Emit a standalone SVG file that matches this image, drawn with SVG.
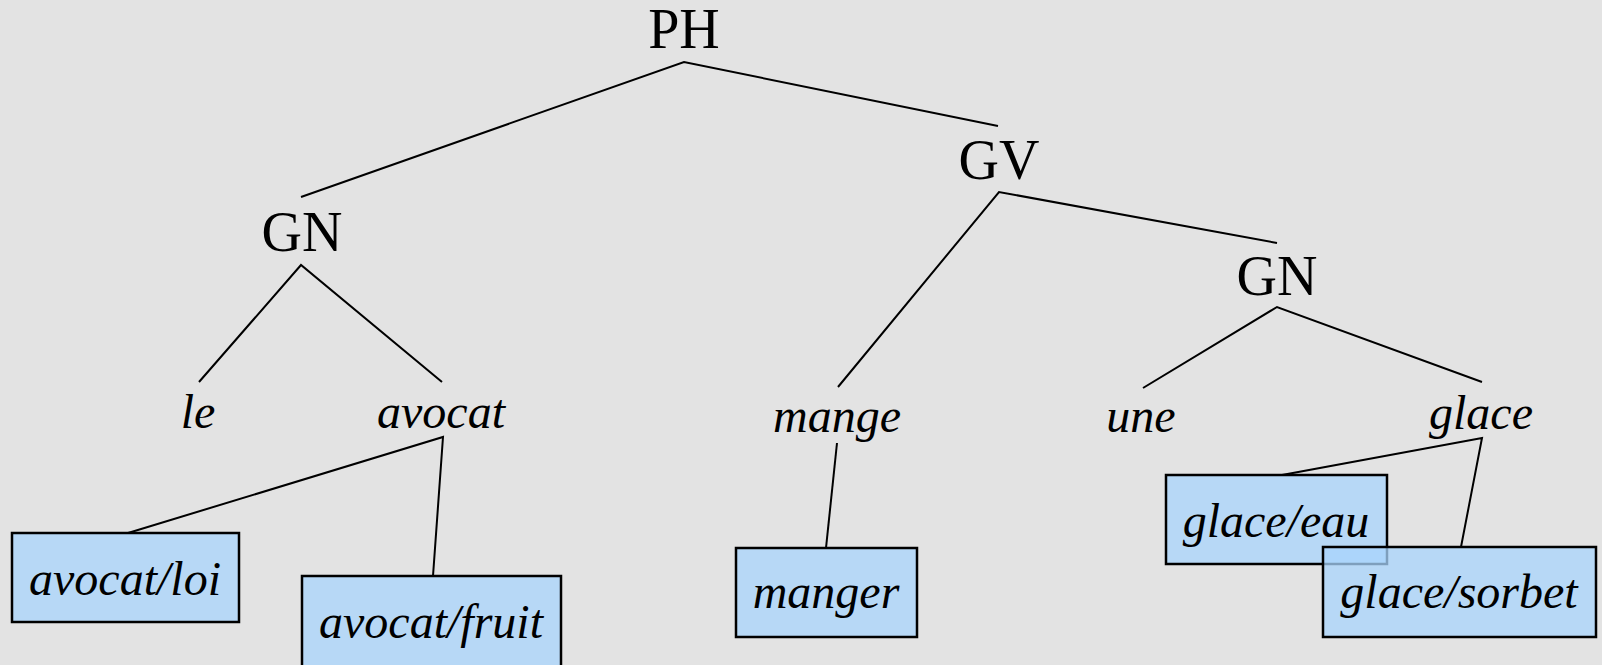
<svg xmlns="http://www.w3.org/2000/svg" width="1602" height="665" viewBox="0 0 1602 665">
<style>
.lbl{font-family:"Liberation Serif","Times New Roman",serif;font-size:56px;fill:#000;text-anchor:middle}
.w{font-family:"Liberation Serif","Times New Roman",serif;font-size:48px;font-style:italic;fill:#000;text-anchor:middle}
.box{fill:#a8d4fc;fill-opacity:0.75;stroke:#000;stroke-width:2.5}
.edge{stroke:#000;stroke-width:2;fill:none}
</style>
<rect x="0" y="0" width="1602" height="665" fill="#e3e3e3"/>
<g id="connectors">
<polyline class="edge" points="301,197 684,62 998,126"/>
<polyline class="edge" points="838,387 999,192 1277,243"/>
<polyline class="edge" points="199,382 301,265 442,382"/>
<polyline class="edge" points="1143,388 1277,307 1482,382"/>
<polyline class="edge" points="128,533 443,437 433,576"/>
<line class="edge" x1="837" y1="443" x2="826" y2="548"/>
<polyline class="edge" points="1282,475 1482,438 1461,547"/>
</g>
<g id="n-ph"><text class="lbl" x="684" y="48">PH</text></g>
<g id="n-gn1"><text class="lbl" x="302" y="251">GN</text></g>
<g id="n-gv"><text class="lbl" x="999" y="179">GV</text></g>
<g id="n-gn2"><text class="lbl" x="1277" y="295">GN</text></g>
<g id="n-le"><text class="w" x="198" y="428">le</text></g>
<g id="n-avocat"><text class="w" x="441" y="428">avocat</text></g>
<g id="n-mange"><text class="w" x="837" y="432">mange</text></g>
<g id="n-une"><text class="w" x="1141" y="432">une</text></g>
<g id="n-glace"><text class="w" x="1481" y="429">glace</text></g>
<g id="n-avocat-loi"><rect class="box" x="12" y="533" width="227" height="89"/><text class="w" x="125" y="595">avocat/loi</text></g>
<g id="n-avocat-fruit"><rect class="box" x="302" y="576" width="259" height="100"/><text class="w" x="431" y="638">avocat/fruit</text></g>
<g id="n-manger"><rect class="box" x="736" y="548" width="181" height="89"/><text class="w" x="826" y="608">manger</text></g>
<g id="n-glace-eau"><rect class="box" x="1166" y="475" width="221" height="89"/><text class="w" x="1276" y="537">glace/eau</text></g>
<g id="n-glace-sorbet"><rect class="box" x="1323" y="547" width="273" height="90"/><text class="w" x="1459" y="608">glace/sorbet</text></g>
</svg>
